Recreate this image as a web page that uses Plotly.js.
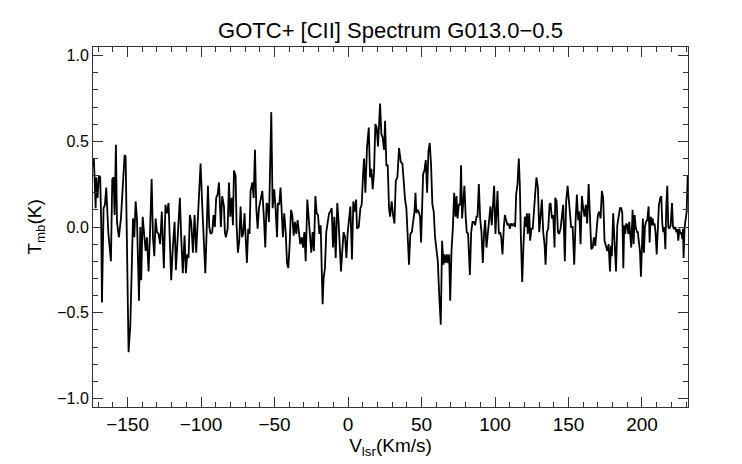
<!DOCTYPE html>
<html>
<head>
<meta charset="utf-8">
<script src="https://cdn.plot.ly/plotly-3.0.1.min.js"></script>
<style>html,body{margin:0;padding:0;background:#fff;}#chart{width:742px;height:464px;}</style>
</head>
<body>
<div id="chart"></div>
<script>
// Velocity (km/s) of each channel
const vlsr = [
-173.5,-172.9,-171.7,-171.3,-170.4,-169.5,-168.6,-167.9,-167.4,-166.3,-165.4,-164.5,-163.1,-161.3,-160.4,-159.5,-158.8,-157.9,-157.2,-155.9,-154.5,-153.1,-152.0,-151.3,-150.4,-149.3,-148.1,-147.2,-146.3,-145.4,-144.5,-143.6,-142.2,-141.3,-140.7,-139.7,-138.6,-137.7,-136.8,-135.7,-134.8,-133.6,-132.7,-131.8,-130.9,-130.0,-128.9,
-127.8,-126.7,-125.3,-124.2,-123.2,-122.1,-121.2,-120.3,-119.2,-118.0,-117.1,-115.8,-114.4,-113.5,-112.4,-111.2,-110.3,-109.4,-108.5,-107.6,-106.7,-105.5,-104.4,-103.3,-102.1,-101.0,-100.3,-99.2,-98.1,-97.1,-96.2,-95.3,-94.4,-93.5,-92.4,-91.5,-90.6,-89.7,-88.7,-87.8,-86.5,-85.6,-84.4,
-83.8,-83.1,-81.9,-81.0,-80.1,-79.2,-78.3,-77.6,-76.5,-75.8,-74.9,-74.0,-73.1,-72.2,-71.3,-70.4,-69.7,-68.8,-67.9,-67.0,-66.3,-65.1,-64.2,-63.3,-62.4,-61.5,-60.6,-59.5,-58.3,-57.2,-56.3,-55.4,-54.7,-53.8,-53.1,-52.2,-51.3,-50.2,-49.3,-48.3,-47.7,-46.8,-45.9,-44.9,-44.3,-43.4,-42.4,-41.5,-40.6,-39.7,
-38.8,-37.9,-37.0,-36.1,-35.2,-34.3,-33.4,-32.5,-31.5,-30.6,-29.7,-28.8,-27.7,-26.8,-25.9,-25.0,-24.1,-23.2,-22.2,-21.3,-20.4,-19.5,-18.6,-17.3,-16.6,-15.7,-14.8,-13.8,-12.9,-12.0,-11.1,-10.2,-9.3,-8.4,-7.3,-6.4,-5.5,-4.8,-3.9,-3.0,-2.0,-1.1,-0.2,0.7,1.6,2.7,3.6,4.5,5.5,
6.1,7.3,8.4,9.3,10.2,10.9,11.8,12.9,14.1,15.0,15.9,16.8,17.7,18.6,19.5,20.4,21.8,22.7,23.6,24.5,25.2,26.1,27.0,27.9,28.6,29.7,30.6,31.6,32.5,33.6,34.7,35.9,37.0,37.9,38.8,39.7,40.6,41.5,42.4,43.4,44.3,45.2,45.9,46.5,47.2,48.1,49.0,49.7,50.6,
51.1,52.0,52.9,53.8,54.7,55.6,56.5,57.4,58.3,59.2,60.2,61.1,62.0,63.1,64.0,64.9,65.6,66.5,67.2,68.1,68.8,69.5,70.4,71.3,72.2,73.1,73.8,74.5,75.4,76.3,76.9,77.6,78.5,79.2,80.1,80.8,81.7,82.9,83.8,84.7,85.6,86.5,87.4,88.1,89.0,89.9,90.8,91.7,92.6,93.3,94.2,95.1,
96.0,96.9,97.8,98.7,99.4,100.3,101.0,101.7,102.6,103.5,104.2,105.1,106.0,106.7,107.6,108.5,109.4,110.1,111.0,111.9,112.8,113.7,114.4,115.3,116.2,116.9,117.6,118.5,119.4,120.3,121.0,121.7,122.3,123.3,123.9,124.8,125.7,126.7,127.3,128.2,129.2,130.1,131.0,131.9,132.8,133.7,134.4,135.3,136.2,137.1,137.8,138.7,139.6,140.5,
141.0,141.9,142.8,143.7,144.6,145.5,146.4,147.5,148.4,149.4,150.3,151.2,151.8,152.8,153.9,154.8,155.7,156.6,157.3,158.2,159.1,160.0,160.9,161.8,162.7,163.7,164.6,165.5,166.4,167.3,168.2,169.1,170.0,170.9,171.8,172.7,173.6,174.5,175.5,176.4,177.3,178.2,178.9,179.5,180.4,181.6,182.3,183.2,184.1,185.0,
185.9,186.6,187.3,187.9,188.6,189.3,190.0,190.7,191.3,192.0,192.7,193.6,194.3,195.0,195.7,196.6,197.2,197.9,198.6,199.3,200.0,200.6,201.3,202.0,202.7,203.6,204.5,205.2,205.9,206.5,207.2,207.9,208.6,209.3,210.0,210.9,211.5,212.5,213.1,213.8,214.5,215.2,215.9,216.5,217.2,217.9,218.6,219.5,220.4,221.1,221.8,222.7,223.3,224.0,224.7,225.4,226.1,226.7,227.4,227.9,228.3,229.0,229.7,230.4,231.1
];
// Main-beam temperature (K) at each velocity
const tmb = [
0.35,0.40,0.11,0.29,0.17,0.30,0.29,0.01,-0.44,0.11,0.13,0.23,-0.03,-0.20,0.28,0.29,0.07,0.48,0.03,-0.06,0.05,0.26,0.42,0.41,-0.12,-0.73,-0.57,-0.22,0.05,-0.06,0.15,0.05,-0.43,0.00,-0.31,0.06,-0.07,-0.14,-0.06,-0.26,-0.06,0.28,-0.06,-0.17,0.05,-0.03,-0.04,
-0.10,0.09,-0.24,0.13,0.08,0.14,-0.14,-0.31,-0.12,0.03,-0.25,-0.03,0.17,-0.06,-0.27,-0.05,-0.27,-0.16,-0.18,0.07,0.03,-0.15,0.07,-0.15,0.07,0.19,0.37,0.13,-0.06,-0.27,-0.03,0.24,0.00,-0.04,-0.03,0.07,0.00,0.17,0.19,0.26,0.00,0.18,0.12,
-0.03,-0.06,-0.01,0.26,0.06,0.17,0.01,0.33,0.30,0.01,-0.15,-0.08,0.12,-0.06,-0.04,0.08,-0.06,-0.21,-0.01,-0.04,0.21,0.26,0.17,0.45,0.11,-0.01,0.11,0.17,0.21,0.05,-0.12,0.14,0.13,0.03,0.26,0.67,0.11,0.22,0.11,-0.06,0.14,0.13,0.23,0.07,-0.06,0.08,-0.03,-0.21,-0.24,-0.10,
0.10,0.07,-0.05,0.03,-0.04,0.04,-0.04,-0.10,-0.06,-0.12,-0.03,-0.20,0.16,0.05,0.00,-0.15,-0.03,-0.14,0.18,0.08,0.07,-0.04,0.01,-0.45,-0.30,-0.24,-0.03,0.02,0.08,0.09,0.11,-0.12,0.06,-0.18,0.14,0.03,-0.10,-0.26,-0.14,-0.03,-0.06,-0.18,-0.03,0.03,0.12,-0.19,0.15,0.09,0.16,
-0.01,0.00,0.11,0.13,0.30,0.40,0.20,0.46,0.58,0.29,0.34,0.22,0.32,0.60,0.58,0.47,0.72,0.54,0.52,0.45,0.62,0.36,0.36,0.11,0.06,0.15,0.07,0.02,0.27,0.29,0.46,0.38,0.37,0.25,0.16,0.11,-0.06,-0.22,-0.04,-0.03,0.03,0.09,0.20,0.08,0.10,0.09,0.06,-0.09,0.17,
0.31,0.33,0.39,0.20,0.44,0.49,0.36,0.13,0.09,-0.06,-0.12,-0.20,-0.39,-0.57,-0.08,-0.22,-0.16,-0.21,-0.16,-0.21,-0.16,-0.43,-0.14,-0.01,0.20,0.06,0.18,0.05,0.13,0.13,0.36,0.05,0.16,0.24,0.05,-0.03,-0.04,-0.28,-0.03,0.03,0.03,0.01,0.06,0.06,0.25,0.05,-0.03,-0.21,-0.03,0.04,-0.12,-0.04,
0.07,0.12,0.01,0.19,0.24,-0.04,0.07,0.21,-0.04,-0.03,-0.06,-0.16,0.00,0.07,0.04,0.01,0.02,-0.01,0.02,0.01,0.02,0.00,0.19,0.25,0.40,0.24,-0.06,-0.32,-0.10,0.06,0.00,0.08,-0.04,0.08,-0.08,-0.01,-0.01,0.15,0.19,0.29,0.23,-0.03,0.09,0.16,-0.03,-0.10,-0.22,-0.03,-0.01,0.13,0.14,0.05,0.07,-0.12,
0.17,0.15,-0.03,-0.04,-0.01,0.08,0.13,-0.20,0.15,0.24,0.15,0.01,0.00,0.00,-0.22,0.03,0.19,0.04,0.09,-0.10,0.18,0.11,0.06,0.13,0.02,0.25,0.05,-0.13,-0.12,-0.06,-0.11,-0.03,0.07,0.09,0.05,0.21,0.17,-0.08,-0.11,-0.14,-0.10,-0.26,-0.11,-0.17,0.08,-0.18,-0.26,0.01,0.06,0.11,
0.11,0.08,-0.24,0.01,-0.04,0.02,0.01,-0.04,0.03,-0.06,-0.12,0.10,-0.10,0.07,0.00,-0.03,-0.03,-0.09,-0.14,-0.29,-0.06,0.05,-0.15,0.00,0.03,0.04,0.12,-0.09,0.06,0.01,0.05,0.01,0.02,-0.04,-0.16,0.03,0.13,0.17,0.18,0.02,-0.03,0.00,-0.13,0.11,0.24,0.00,-0.01,0.01,0.14,0.00,-0.01,0.00,-0.03,-0.01,-0.08,-0.01,-0.04,-0.03,-0.07,-0.01,-0.18,0.00,0.07,0.09,0.30
];
const titleText = "GOTC+ [CII] Spectrum G013.0\u22120.5";
const xTitle = "V<sub>lsr</sub>(Km/s)";
const yTitle = "T<sub>mb</sub>(K)";
const xRange = [-173.5, 231.3];
const yRange = [-1.05, 1.05];

const FONT = "Liberation Sans, Arial, Helvetica, sans-serif";
const AX = "#333333";

const trace = {
  x: vlsr, y: tmb, type: "scatter", mode: "lines",
  line: {color: "#000000", width: 1.8}, hoverinfo: "skip"
};
// invisible trace that only activates the mirrored (top / right) tick axes
const mirrorTrace = {
  x: xRange, y: yRange, xaxis: "x2", yaxis: "y2", type: "scatter", mode: "none",
  hoverinfo: "skip", showlegend: false
};

const xTicks = {
  ticks: "inside", ticklen: 10, tickwidth: 1, tickcolor: AX, tick0: 0, dtick: 50,
  minor: {ticks: "inside", dtick: 10, tick0: 0, ticklen: 5, tickwidth: 1, tickcolor: AX, showgrid: false}
};
const yTicks = {
  ticks: "inside", ticklen: 10, tickwidth: 1, tickcolor: AX, tick0: 0, dtick: 0.5,
  minor: {ticks: "inside", dtick: 0.1, tick0: 0, ticklen: 5, tickwidth: 1, tickcolor: AX, showgrid: false}
};

const layout = {
  width: 742, height: 464,
  margin: {l: 93, r: 54, t: 47, b: 57, pad: 0},
  paper_bgcolor: "#ffffff", plot_bgcolor: "#ffffff",
  font: {family: FONT, color: "#000000"},
  showlegend: false,
  title: {text: titleText, font: {size: 22, family: FONT, color: "#000"}, x: 0.5, xref: "paper", y: 0.935, yref: "container", yanchor: "middle"},
  xaxis: Object.assign({
    range: xRange, showgrid: false, zeroline: false,
    showline: true, linecolor: AX, linewidth: 1, mirror: true,
    tickfont: {size: 19, family: FONT, color: "#000"},
    title: {text: xTitle, font: {size: 19, family: FONT, color: "#000"}, standoff: 4}
  }, xTicks),
  yaxis: Object.assign({
    range: yRange, showgrid: false, zeroline: false,
    showline: true, linecolor: AX, linewidth: 1, mirror: true,
    tickformat: ".1f",
    tickfont: {size: 16, family: FONT, color: "#000"},
    title: {text: yTitle, font: {size: 19, family: FONT, color: "#000"}, standoff: 10}
  }, yTicks),
  xaxis2: Object.assign({
    range: xRange, overlaying: "x", side: "top", anchor: "y",
    showgrid: false, zeroline: false, showline: false, showticklabels: false
  }, xTicks),
  yaxis2: Object.assign({
    range: yRange, overlaying: "y", side: "right", anchor: "x",
    showgrid: false, zeroline: false, showline: false, showticklabels: false
  }, yTicks)
};

Plotly.newPlot("chart", [trace, mirrorTrace], layout, {staticPlot: true, displayModeBar: false});
</script>
</body>
</html>
